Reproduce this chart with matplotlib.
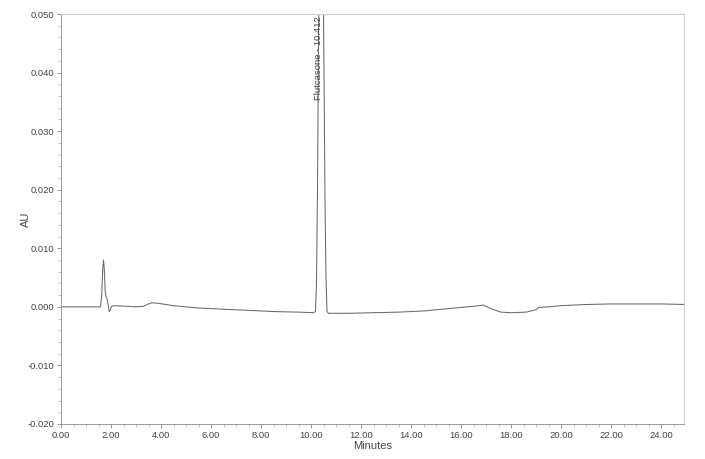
import matplotlib
matplotlib.use("Agg")
import matplotlib.pyplot as plt
from matplotlib.ticker import MultipleLocator, FormatStrFormatter

# Chromatogram trace (minutes, AU)
time_min = [0.00, 1.58, 1.63, 1.67, 1.70, 1.73, 1.77, 1.81, 1.84, 1.88, 1.93, 1.97,
            2.02, 2.15, 2.60, 3.00, 3.30, 3.50, 3.65, 3.90, 4.50, 5.50, 6.50, 7.50,
            8.50, 9.50, 10.10, 10.18, 10.22, 10.26, 10.30, 10.34, 10.38, 10.41, 10.44,
            10.48, 10.52, 10.56, 10.60, 10.64, 10.70, 11.50, 12.50, 13.50, 14.50,
            15.50, 16.50, 16.90, 17.20, 17.60, 18.00, 18.60, 19.00, 19.10, 19.50,
            20.00, 21.00, 22.00, 23.00, 24.00, 25.00]
absorb_au = [0.0000, 0.0000, 0.0020, 0.0065, 0.0080, 0.0065, 0.0025, 0.0016, 0.0014,
             0.0005, -0.0008, -0.0006, 0.0001, 0.0002, 0.0001, 0.0000, 0.0001, 0.0005,
             0.0007, 0.0006, 0.0002, -0.0002, -0.0004, -0.0006, -0.0008, -0.0009,
             -0.0010, -0.0008, 0.0040, 0.0200, 0.0450, 0.0650, 0.0750, 0.0770, 0.0750,
             0.0620, 0.0400, 0.0180, 0.0050, -0.0008, -0.0011, -0.0011, -0.0010,
             -0.0009, -0.0007, -0.0003, 0.0001, 0.0003, -0.0003, -0.0009, -0.0010,
             -0.0009, -0.0005, -0.0001, 0.0000, 0.0002, 0.0004, 0.0005, 0.0005,
             0.0005, 0.0004]

peak_name = "Flutcasone - 10.412"
peak_time = 10.412

plt.rcParams['font.family'] = ['Liberation Sans', 'DejaVu Sans']
fam = ['Liberation Sans', 'DejaVu Sans']
txt_color = "#444444"

fig = plt.figure(figsize=(7.05, 4.59), dpi=100)
ax = fig.add_axes([61 / 705, 1 - 424 / 459, (684 - 61) / 705, (424 - 14) / 459])

ax.plot(time_min, absorb_au, color="#6a6a6a", lw=0.75)
ax.set_xlim(0, 24.92)
ax.set_ylim(-0.020, 0.050)

ax.xaxis.set_major_locator(MultipleLocator(2))
ax.xaxis.set_minor_locator(MultipleLocator(0.5))
ax.yaxis.set_major_locator(MultipleLocator(0.010))
ax.yaxis.set_minor_locator(MultipleLocator(0.002))
ax.xaxis.set_major_formatter(FormatStrFormatter("%.2f"))
ax.yaxis.set_major_formatter(FormatStrFormatter("%.3f"))

for lab in ax.get_xticklabels() + ax.get_yticklabels():
    lab.set_family(fam)
ax.tick_params(axis="both", which="major", labelsize=6.8, labelcolor=txt_color,
               color="#888888", length=3, width=0.6, pad=2)
ax.tick_params(axis="both", which="minor", color="#aaaaaa", length=2, width=0.5)

for s in ["top", "right"]:
    ax.spines[s].set_color("#cfcfcf")
    ax.spines[s].set_linewidth(0.8)
for s in ["left", "bottom"]:
    ax.spines[s].set_color("#999999")
    ax.spines[s].set_linewidth(0.7)

ax.set_xlabel("Minutes", fontsize=8, color=txt_color, labelpad=1, family=fam)
ax.set_ylabel("AU", fontsize=8, color=txt_color, family=fam)
ax.yaxis.set_label_coords(-0.048, 0.5)

ax.text(peak_time - 0.1, 0.0497, peak_name, rotation=90, ha="center", va="top",
        fontsize=6.8, color=txt_color, family=fam)

fig.savefig("out.png", dpi=100)
